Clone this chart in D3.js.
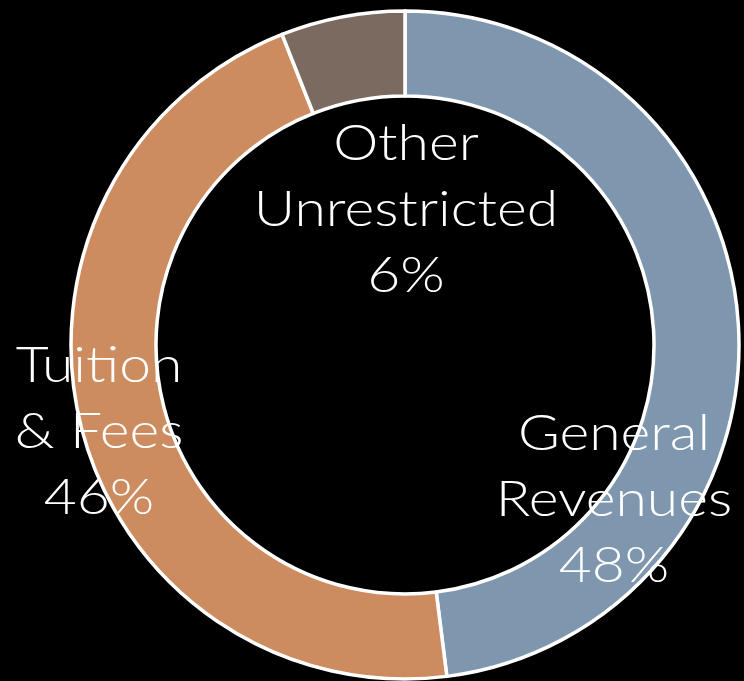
<!DOCTYPE html>
<html>
<head>
<meta charset="utf-8">
<script src="https://cdn.jsdelivr.net/npm/d3@7"></script>
<style>
  html, body { margin: 0; padding: 0; background: #000; }
  svg { display: block; }
  .lbl { font-family: "Lato", "Open Sans", sans-serif; font-weight: 300; fill: #fff; }
</style>
</head>
<body>
<div id="chart"></div>
<script>
// chart values
let categories = ["General Revenues", "Tuition & Fees", "Other Unrestricted"];
let shares = [48, 46, 6];
let labelLines = [["General", "Revenues", "48%"], ["Tuition", "& Fees", "46%"], ["Other", "Unrestricted", "6%"]];
let colors = ["#7f97ae", "#cd8c5f", "#7b6a5f"];

let settings = {
    width: 744,
    height: 681,
    cx: 405,
    cy: 345,
    outer: 334,
    inner: 249,
    font_size: 50,
    line_height: 66,
    stretch: 1.14,   // the original face is wider than Lato
};

// label centres (first baseline), placed by hand like the original
let label_pos = [
    {x: 614, y: 450},
    {x: 99, y: 382},
    {x: 406, y: 160},
];

function draw(elementId) {
    let svg = d3.select(document.getElementById(elementId))
        .append("svg")
        .attr("width", settings.width)
        .attr("height", settings.height);

    svg.append("rect")
        .attr("width", settings.width)
        .attr("height", settings.height)
        .attr("fill", "#000");

    let g = svg.append("g")
        .attr("transform", "translate(" + settings.cx + "," + settings.cy + ")");

    let pie = d3.pie().sort(null).value(d => d);
    let arc = d3.arc().innerRadius(settings.inner).outerRadius(settings.outer);

    g.selectAll("path.slice")
        .data(pie(shares))
        .enter().append("path")
        .attr("class", "slice")
        .attr("d", arc)
        .attr("fill", (d, i) => colors[i])
        .attr("stroke", "#fff")
        .attr("stroke-width", 3.5)
        .attr("stroke-linejoin", "round");

    let labels = svg.append("g")
        .selectAll("text")
        .data(categories)
        .enter().append("text")
        .attr("class", "lbl")
        .attr("text-anchor", "middle")
        .attr("font-size", settings.font_size)
        .attr("transform", (d, i) => "translate(" + label_pos[i].x + "," + label_pos[i].y + ") scale(" + settings.stretch + ",1)");

    labels.selectAll("tspan")
        .data((d, i) => labelLines[i])
        .enter().append("tspan")
        .attr("x", 0)
        .attr("dy", (d, j) => j === 0 ? 0 : settings.line_height)
        .text(d => d);
}

draw("chart");
</script>
</body>
</html>
